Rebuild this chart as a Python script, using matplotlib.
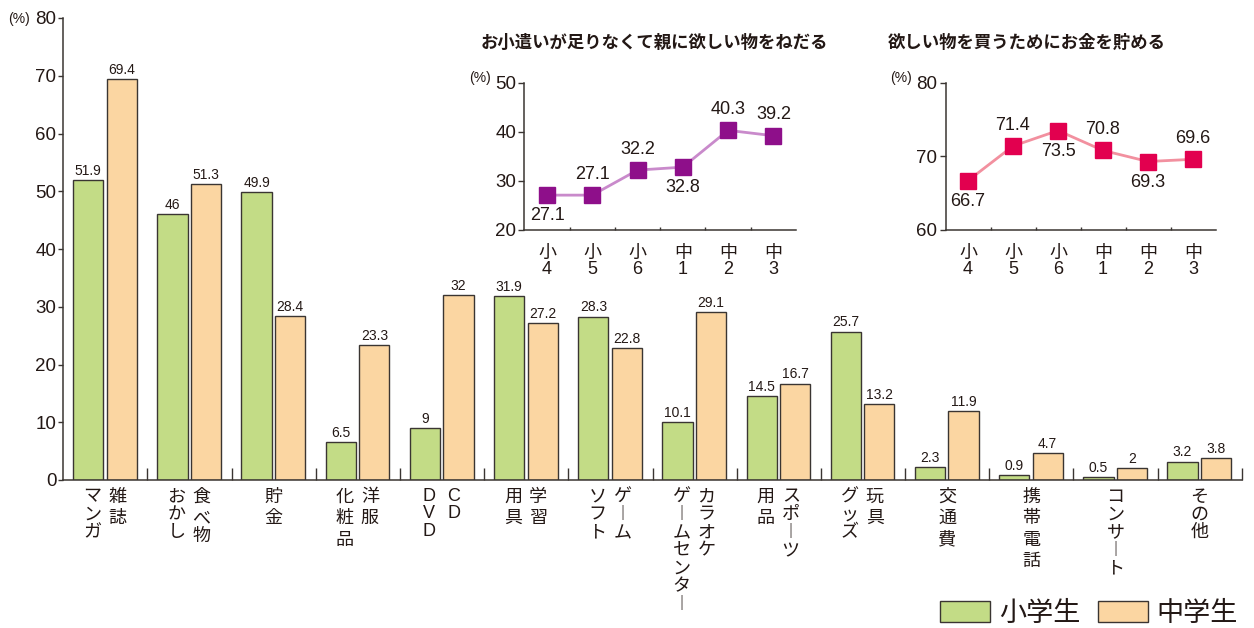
import matplotlib
matplotlib.use("Agg")
import matplotlib.pyplot as plt
from matplotlib.patches import Patch
from matplotlib.ticker import FixedLocator

plt.rcParams['font.family'] = ['Liberation Sans', 'Noto Sans CJK JP']

# ---------------- data ----------------
# category labels: (left column, right column) in vertical writing
cat_left = ["マンガ", "おかし", "貯金", "化粧品", "DVD", "用具", "ソフト",
            "ゲームセンター", "用品", "グッズ", "交通費", "携帯電話", "コンサート", "その他"]
cat_right = ["雑誌", "食べ物", "", "洋服", "CD", "学習", "ゲーム",
             "カラオケ", "スポーツ", "玩具", "", "", "", ""]
elem_vals = [51.9, 46, 49.9, 6.5, 9, 31.9, 28.3, 10.1, 14.5, 25.7, 2.3, 0.9, 0.5, 3.2]
elem_lbls = ["51.9", "46", "49.9", "6.5", "9", "31.9", "28.3", "10.1", "14.5", "25.7", "2.3", "0.9", "0.5", "3.2"]
mid_vals = [69.4, 51.3, 28.4, 23.3, 32, 27.2, 22.8, 29.1, 16.7, 13.2, 11.9, 4.7, 2, 3.8]
mid_lbls = ["69.4", "51.3", "28.4", "23.3", "32", "27.2", "22.8", "29.1", "16.7", "13.2", "11.9", "4.7", "2", "3.8"]
series_names = ["小学生", "中学生"]

grades = ["小\n4", "小\n5", "小\n6", "中\n1", "中\n2", "中\n3"]
beg_title = "お小遣いが足りなくて親に欲しい物をねだる"
beg_vals = [27.1, 27.1, 32.2, 32.8, 40.3, 39.2]
beg_pos = ["below", "above", "above", "below", "above", "above"]
save_title = "欲しい物を買うためにお金を貯める"
save_vals = [66.7, 71.4, 73.5, 70.8, 69.3, 69.6]
save_pos = ["below", "above", "below", "above", "below", "above"]

# ---------------- style ----------------
GREEN = "#c3dc86"
ORANGE = "#fbd6a2"
EDGE = "#3a3532"
TXT = "#231815"
W, H = 1254, 628


def fx(px):
    return px / W


def fy(py):
    return 1 - py / H


fig = plt.figure(figsize=(12.54, 6.28), dpi=100)

# ---------------- main bar chart ----------------
ax = fig.add_axes([fx(63.3), fy(480), fx(1241.7) - fx(63.3), fy(18) - fy(480)])
n = len(elem_vals)
xs = list(range(n))
ax.bar([i + 0.297 for i in xs], elem_vals, width=0.36, color=GREEN,
       edgecolor=EDGE, linewidth=1.0)
ax.bar([i + 0.695 for i in xs], mid_vals, width=0.36, color=ORANGE,
       edgecolor=EDGE, linewidth=1.0)
for i in xs:
    ax.annotate(elem_lbls[i], (i + 0.297, elem_vals[i]), xytext=(0, 1.5),
                textcoords="offset points", ha="center", va="bottom",
                fontsize=10, color=TXT)
    ax.annotate(mid_lbls[i], (i + 0.695, mid_vals[i]), xytext=(0, 1.5),
                textcoords="offset points", ha="center", va="bottom",
                fontsize=10, color=TXT)

ax.set_xlim(0, n)
ax.set_ylim(0, 80)
ax.set_yticks(range(0, 81, 10))
ax.xaxis.set_major_locator(FixedLocator(list(range(1, n + 1))))
ax.set_xticklabels([])
ax.tick_params(axis="x", direction="in", length=8.5, width=1.0, color=EDGE)
ax.tick_params(axis="y", direction="out", length=3.5, width=1.0, color=EDGE,
               pad=1.5, labelsize=13.5, labelcolor=TXT)
for s in ["top", "right"]:
    ax.spines[s].set_visible(False)
for s in ["left", "bottom"]:
    ax.spines[s].set_color(EDGE)
    ax.spines[s].set_linewidth(1.1)

fig.text(fx(8), fy(19), "(%)", fontsize=10, color=TXT, ha="left", va="center")

# vertical category labels
PX = 72 / 100.0


def advance(ch):
    o = ord(ch)
    if ch == "︱":
        return 18.8 * PX
    if o >= 0x4E00:
        return 21.5 * PX
    if 0x3040 <= o <= 0x30FF:
        return 17.8 * PX
    return 17.8 * PX


def vertical_label(text, xpos):
    y = 5.5
    for ch in text:
        disp = "︱" if ch == "ー" else ch
        ax.annotate(disp, (xpos, 0), xycoords=ax.get_xaxis_transform(),
                    xytext=(0, -y), textcoords="offset points",
                    ha="center", va="top", fontsize=13, color=TXT,
                    family=["Noto Sans CJK JP"] if ord(ch) > 0x2000 else ["Liberation Sans"])
        y += advance(disp)


for i in xs:
    if cat_right[i]:
        vertical_label(cat_left[i], i + 0.345)
        vertical_label(cat_right[i], i + 0.642)
    else:
        vertical_label(cat_left[i], i + 0.5)

handles = [Patch(facecolor=GREEN, edgecolor=EDGE, linewidth=1.0),
           Patch(facecolor=ORANGE, edgecolor=EDGE, linewidth=1.0)]
leg = fig.legend(handles, series_names, loc="center right",
                 bbox_to_anchor=(fx(1238), fy(614)), ncol=2, frameon=False,
                 fontsize=19.5, handlelength=1.85, handleheight=0.8,
                 handletextpad=0.33, columnspacing=0.63, borderpad=0,
                 borderaxespad=0)
for t in leg.get_texts():
    t.set_color(TXT)


# ---------------- insets ----------------
def inset(left_px, right_px, vals, pos, ymin, ymax, title, title_x, line_c, mark_c):
    a = fig.add_axes([fx(left_px), fy(230), fx(right_px) - fx(left_px), fy(82.7) - fy(230)])
    gx = list(range(len(vals)))
    a.plot(gx, vals, color=line_c, linewidth=2.0, zorder=2)
    a.plot(gx, vals, linestyle="none", marker="s", markersize=11,
           color=mark_c, zorder=3)
    for i, v in enumerate(vals):
        off = 15 if pos[i] == "above" else -15
        a.annotate(f"{v}", (i, v), xytext=(0, off), textcoords="offset points",
                   ha="center", va="center", fontsize=13, color=TXT)
    a.set_xlim(-0.5, len(vals) - 0.5)
    a.set_ylim(ymin, ymax)
    a.set_yticks(range(ymin, ymax + 1, 10))
    a.set_xticks(gx)
    a.set_xticklabels(grades, linespacing=0.9)
    a.xaxis.set_minor_locator(FixedLocator([i + 0.5 for i in gx[:-1]]))
    a.tick_params(axis="x", which="major", length=0, pad=11, labelsize=13,
                  labelcolor=TXT)
    a.tick_params(axis="x", which="minor", direction="in", length=2.5,
                  width=1.0, color=EDGE)
    a.tick_params(axis="y", direction="out", length=4.5, width=1.0,
                  color=EDGE, pad=1.5, labelsize=13.5, labelcolor=TXT)
    for s in ["top", "right"]:
        a.spines[s].set_visible(False)
    for s in ["left", "bottom"]:
        a.spines[s].set_color(EDGE)
        a.spines[s].set_linewidth(1.1)
    a.patch.set_alpha(0)
    fig.text(fx(title_x), fy(42), title, ha="left", va="center",
             fontsize=12.5, fontweight="bold", color=TXT)
    fig.text(fx(left_px - 55), fy(78), "(%)", ha="left", va="center",
             fontsize=10, color=TXT)
    return a


inset(524.4, 796, beg_vals, beg_pos, 20, 50, beg_title, 481, "#c98acb", "#8e0f8a")
inset(945.5, 1215.5, save_vals, save_pos, 60, 80, save_title, 888, "#f2909f", "#e2004f")

fig.savefig("out.png", dpi=100)
